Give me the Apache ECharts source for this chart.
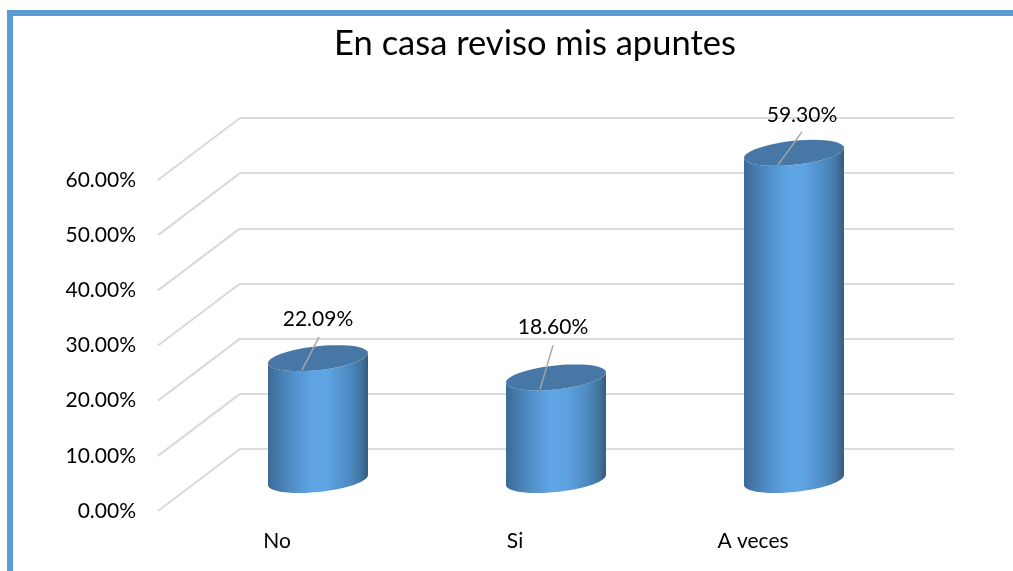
<!DOCTYPE html>
<html><head><meta charset="utf-8">
<style>html,body{margin:0;padding:0;background:#fff}#c{width:1013px;height:571px}</style>
<script src="https://cdn.jsdelivr.net/npm/echarts@6/dist/echarts.min.js"></script>
</head><body><div id="c"></div>
<script>
const categories = ['No', 'Si', 'A veces'];
const values = [22.09, 18.60, 59.30];
const valueLabels = ['22.09%', '18.60%', '59.30%'];
const gridTicks = [0, 10, 20, 30, 40, 50, 60];

// layout only: 3D depth of the floor, and the label/leader placement per bar
const depth = { dx: 82, dy: -62 };
const labelLayout = [
  { lx: 0, ly: -39, ex: 1, ey: -21 },
  { lx: -3, ly: -50, ex: -3, ey: -32 },
  { lx: 8, ly: -38, ex: 8, ey: -21 }
];
const FONT = 'Lato, "Open Sans", sans-serif';
const chart = echarts.init(document.getElementById('c'), null, { renderer: 'canvas' });

function ellipsePoints(cx, cy, a, skew, b, from, to) {
  const pts = [];
  const n = 48;
  for (let i = 0; i <= n; i++) {
    const t = from + (to - from) * i / n;
    pts.push([cx + a * Math.cos(t), cy - skew * Math.cos(t) + b * Math.sin(t)]);
  }
  return pts;
}

function renderCylinder(params, api) {
  const i = api.value(0);
  const top = api.coord([i, api.value(1)]);
  const base = api.coord([i, 0]);
  const a = api.size([1, 0])[0] * 0.21;
  const cx = top[0] - depth.dx / 2;
  const topY = top[1] - depth.dy / 2;
  const baseY = base[1] - depth.dy / 2;
  const skew = 5, b = 12;
  const bottomArc = ellipsePoints(cx, baseY, a, skew, b, 0, Math.PI);
  const topArc = ellipsePoints(cx, topY, a, skew, b, Math.PI, 0);
  const L = labelLayout[i];
  return {
    type: 'group',
    children: [
      { type: 'polygon', shape: { points: bottomArc.concat(topArc) },
        style: { fill: new echarts.graphic.LinearGradient(0, 0, 1, 0, [
          { offset: 0, color: '#3b6a96' },
          { offset: 0.1, color: '#447aac' },
          { offset: 0.3, color: '#5596d2' },
          { offset: 0.45, color: '#5fa5e5' },
          { offset: 0.6, color: '#5ea3e2' },
          { offset: 0.8, color: '#4f8cc4' },
          { offset: 0.93, color: '#42759f' },
          { offset: 1, color: '#345a7c' }
        ]) } },
      { type: 'polygon', shape: { points: ellipsePoints(cx, topY, a, skew, b, 0, Math.PI * 2) },
        style: { fill: '#4677a5' } },
      { type: 'line', shape: { x1: cx - 16, y1: topY + 12, x2: cx + L.ex, y2: topY + L.ey },
        style: { stroke: '#a6a6a6', lineWidth: 1.5 } },
      { type: 'text', x: cx + L.lx, y: topY + L.ly,
        style: { text: valueLabels[i], font: '21px ' + FONT, fill: '#000', align: 'center', verticalAlign: 'middle' } }
    ]
  };
}

function renderDiagonal(params, api) {
  const p = api.coord([0, api.value(0)]);
  const x = p[0] - api.size([1, 0])[0] / 2;
  return { type: 'line',
    shape: { x1: x, y1: p[1], x2: x - depth.dx, y2: p[1] - depth.dy },
    style: { stroke: '#d9d9d9', lineWidth: 2 } };
}

chart.setOption({
  animation: false,
  backgroundColor: '#fff',
  title: { text: 'En casa reviso mis apuntes', left: 530, top: 21, textAlign: 'center',
    textStyle: { fontFamily: FONT, fontSize: 34.5, fontWeight: 'normal', color: '#000' } },
  grid: [
    { left: 240, top: 118, width: 714, height: 331 },
    { left: 158, top: 180, width: 714, height: 331 }
  ],
  xAxis: [
    { type: 'category', gridIndex: 0, data: categories, axisLine: { show: false }, axisTick: { show: false }, axisLabel: { show: false } },
    { type: 'category', gridIndex: 1, data: categories, axisLine: { show: false }, axisTick: { show: false },
      axisLabel: { margin: 20, fontFamily: FONT, fontSize: 21, color: '#000' } }
  ],
  yAxis: [
    { type: 'value', gridIndex: 0, min: 0, max: 60, interval: 10, axisLine: { show: false }, axisTick: { show: false }, axisLabel: { show: false },
      splitLine: { lineStyle: { color: '#dcdcdc', width: 2 } } },
    { type: 'value', gridIndex: 1, min: 0, max: 60, interval: 10, axisLine: { show: false }, axisTick: { show: false }, splitLine: { show: false },
      axisLabel: { margin: 22, fontFamily: FONT, fontSize: 21, color: '#000', formatter: v => v.toFixed(2) + '%' } }
  ],
  series: [
    { type: 'custom', xAxisIndex: 0, yAxisIndex: 0, z: 1, silent: true, clip: false, renderItem: renderDiagonal,
      data: gridTicks.map(v => [v]), encode: { y: 0 } },
    { type: 'custom', xAxisIndex: 0, yAxisIndex: 0, z: 2, clip: false, renderItem: renderCylinder,
      data: values.map((v, i) => [i, v]), encode: { x: 0, y: 1 } }
  ],
  graphic: [
    { type: 'rect', shape: { x: 7, y: 10, width: 1006, height: 6 }, style: { fill: '#5b9bd5' }, z: 10 },
    { type: 'rect', shape: { x: 7, y: 10, width: 6, height: 561 }, style: { fill: '#5b9bd5' }, z: 10 }
  ]
});
</script></body></html>
